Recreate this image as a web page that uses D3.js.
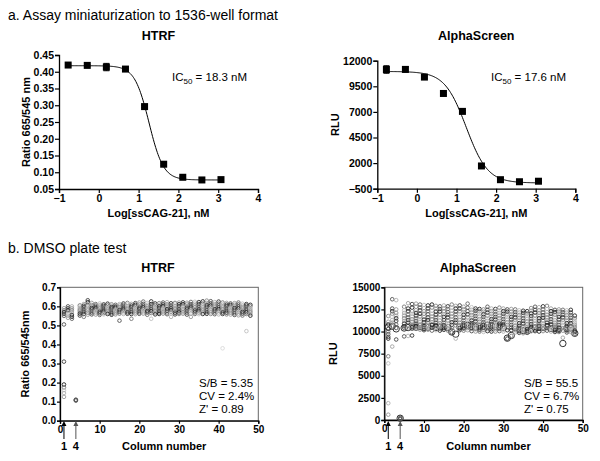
<!DOCTYPE html>
<html><head><meta charset="utf-8">
<script src="https://cdn.jsdelivr.net/npm/d3@7"></script>
<style>body{margin:0;background:#fff}svg{display:block}text{font-family:"Liberation Sans",Arial,sans-serif}</style>
</head><body><div id="chart"></div>
<script>
// ---------- data ----------
const logConc = [-0.77,-0.29,0.19,0.67,1.15,1.63,2.11,2.59,3.07];
const htrfMean = [0.420,0.419,0.414,0.408,0.296,0.124,0.085,0.077,0.078];
const htrfErr  = [0.003,0.003,0.011,0.003,0.003,0.003,0.002,0.002,0.002];
const alphaMean = [11140,11150,10400,8800,7050,1720,380,180,230];
const alphaErr  = [370,250,120,100,100,80,60,50,60];
// fitted 4-parameter logistic: [top, bottom, logIC50, hill]
const htrfFit  = [0.418,0.077,Math.log10(18.3),2.4];
const alphaFit = [10950,60,Math.log10(17.6),1.6];
const xTicksTop = [-1,0,1,2,3,4];
const htrfYTicksTop = [0.05,0.10,0.15,0.20,0.25,0.30,0.35,0.40,0.45];
const alphaYTicksTop = [-500,2000,4500,7000,9500,12000];
const columnTicks = [0,10,20,30,40,50];
const htrfYTicksPlate = [0,0.1,0.2,0.3,0.4,0.5,0.6,0.7];
const alphaYTicksPlate = [0,2500,5000,7500,10000,12500,15000];

// DMSO plate: values per column (1..48)
const htrfPlate = [
[0.58,0.59,0.57,0.56,0.55,0.505,0.31,0.19,0.175,0.16,0.145,0.125],
[0.60,0.59,0.58,0.575,0.56,0.55,0.54],
[0.60,0.59,0.58,0.57,0.555,0.545,0.535],
[0.11,0.105,0.108],
[0.605,0.598,0.59,0.583,0.577,0.57,0.562,0.552],
[0.612,0.603,0.595,0.588,0.58,0.571,0.56,0.545],
[0.632,0.622,0.605,0.596,0.587,0.578,0.566,0.556],
[0.618,0.607,0.6,0.592,0.584,0.575,0.567,0.558],
[0.612,0.604,0.597,0.59,0.582,0.574,0.566,0.557],
[0.615,0.606,0.598,0.589,0.581,0.572,0.564,0.555],
[0.61,0.602,0.595,0.588,0.58,0.573,0.565,0.558],
[0.614,0.605,0.597,0.59,0.583,0.575,0.567,0.56],
[0.611,0.603,0.596,0.589,0.581,0.572,0.564,0.556],
[0.608,0.6,0.594,0.587,0.58,0.573,0.566,0.558],
[0.612,0.604,0.596,0.588,0.58,0.571,0.562,0.525],
[0.615,0.607,0.599,0.591,0.584,0.576,0.568,0.56],
[0.618,0.609,0.6,0.592,0.585,0.577,0.569,0.561],
[0.613,0.604,0.596,0.588,0.579,0.57,0.56,0.535],
[0.617,0.608,0.6,0.592,0.584,0.576,0.568,0.559],
[0.62,0.61,0.601,0.593,0.585,0.577,0.569,0.561],
[0.625,0.613,0.603,0.594,0.586,0.578,0.57,0.562],
[0.618,0.608,0.6,0.592,0.584,0.576,0.568,0.556],
[0.626,0.612,0.602,0.593,0.584,0.575,0.565,0.535],
[0.615,0.606,0.598,0.59,0.582,0.574,0.566,0.558],
[0.617,0.608,0.6,0.592,0.584,0.576,0.568,0.56],
[0.62,0.611,0.602,0.594,0.586,0.578,0.57,0.562],
[0.622,0.612,0.603,0.595,0.586,0.577,0.568,0.559],
[0.616,0.607,0.599,0.59,0.581,0.572,0.563,0.545],
[0.618,0.609,0.6,0.592,0.584,0.576,0.567,0.558],
[0.62,0.611,0.602,0.594,0.585,0.577,0.568,0.56],
[0.621,0.612,0.603,0.595,0.586,0.578,0.569,0.561],
[0.619,0.61,0.601,0.593,0.584,0.576,0.567,0.557],
[0.623,0.612,0.602,0.593,0.584,0.574,0.562,0.545],
[0.624,0.614,0.604,0.595,0.586,0.578,0.569,0.56],
[0.622,0.612,0.603,0.594,0.585,0.577,0.568,0.559],
[0.626,0.615,0.605,0.596,0.587,0.578,0.569,0.56],
[0.63,0.618,0.606,0.597,0.588,0.579,0.57,0.561],
[0.627,0.616,0.605,0.596,0.587,0.578,0.569,0.56],
[0.622,0.612,0.603,0.594,0.585,0.577,0.568,0.559],
[0.625,0.614,0.604,0.595,0.586,0.577,0.568,0.558],
[0.62,0.611,0.602,0.594,0.585,0.577,0.568,0.56],
[0.618,0.609,0.601,0.593,0.584,0.576,0.567,0.558],
[0.615,0.607,0.599,0.591,0.583,0.575,0.566,0.557],
[0.617,0.608,0.6,0.591,0.582,0.573,0.564,0.555],
[0.62,0.61,0.6,0.59,0.58,0.571,0.562,0.553],
[0.614,0.605,0.597,0.589,0.58,0.571,0.562,0.552],
[0.612,0.604,0.596,0.587,0.578,0.569,0.56,0.47],
[0.608,0.6,0.592,0.585,0.577,0.569,0.56,0.551]
];
const htrfFaint = [[41,0.38]];

const alphaPlate = [
[11750,11100,10800,10300,10000,9700,9400,9200,7200,6400,1900,600],
[13650,12600,12300,12000,11650,11300,11000,10600,8300],
[13550,12500,12100,11800,11500,11200,10800,10400,9100],
[250,150,100],
[12800,12400,12100,11800,11500,11200,10900,10600,10400,9450],
[13200,12600,12300,11900,11600,11300,11000,10700,10400,9500],
[13100,12700,12300,12000,11700,11400,11100,10800,10500,9550],
[13150,12800,12400,12100,11800,11500,11200,10900,10600,10300],
[13050,12700,12400,12000,11700,11400,11100,10800,10500,10200],
[13000,12650,12300,12000,11650,11350,11050,10750,10450,10150],
[12950,12600,12300,11950,11600,11300,11000,10700,10400,10200],
[13050,12700,12350,12000,11700,11400,11050,10750,10450,10100],
[12900,12600,12250,11900,11600,11300,11000,10700,10400,10150],
[12850,12550,12250,11900,11600,11250,10950,10650,10350,10100],
[12950,12600,12300,11950,11650,11300,11000,10700,10450,10200],
[12850,12550,12200,11900,11600,11250,10950,10650,10350,10100],
[13050,12700,12350,12000,11700,11350,11050,10750,10400,9900],
[12900,12600,12250,11950,11600,11300,11000,10700,10300,9200],
[12950,12600,12300,11950,11650,11300,11000,10700,10400,10150],
[12800,12500,12200,11900,11550,11250,10950,10650,10350,10100],
[13150,12700,12300,11950,11600,11300,11000,10700,10400,10150],
[12750,12450,12150,11850,11550,11250,10950,10650,10350,10050],
[12600,12350,12050,11750,11450,11150,10850,10550,10250,10000],
[12550,12300,12000,11700,11400,11100,10800,10500,10200,10000],
[12500,12250,11950,11650,11350,11050,10750,10450,10200,9950],
[12800,12450,12150,11800,11500,11200,10900,10600,10300,10050],
[12600,12300,12000,11700,11400,11100,10800,10500,10250,10000],
[12550,12250,11950,11650,11350,11050,10750,10500,10250,10000],
[12700,12400,12100,11800,11500,11200,10900,10600,10300,10050],
[12600,12300,12000,11700,11400,11100,10800,10500,10200,10000],
[12500,12250,11950,11650,11350,11050,10750,10450,10150,9200],
[12550,12250,11950,11650,11350,11050,10750,10450,10150,9500],
[12500,12200,11900,11600,11300,11000,10700,10400,10150,9900],
[12400,12150,11850,11550,11250,10950,10650,10350,10100,9850],
[12350,12100,11800,11500,11200,10900,10600,10350,10100,9800],
[12300,12050,11750,11450,11150,10850,10550,10300,10050,9850],
[12650,12350,12050,11750,11450,11150,10850,10550,10250,10000],
[12800,12450,12150,11800,11500,11200,10900,10600,10300,10050],
[12750,12400,12100,11800,11500,11200,10900,10600,10300,10000],
[12850,12500,12150,11850,11550,11250,10950,10650,10350,10050],
[12900,12550,12200,11900,11600,11300,11000,10700,10400,10100],
[12600,12300,12000,11700,11400,11100,10800,10500,10250,10000],
[12450,12200,11900,11600,11300,11000,10750,10450,10200,9950],
[12500,12250,11950,11650,11350,11050,10750,10450,10200,9950],
[12450,12200,11900,11600,11300,11000,10700,10400,10100,9300],
[12400,12150,11850,11550,11250,10950,10650,10350,10100,9900],
[12450,12150,11850,11550,11250,10950,10650,10400,10150,9950],
[11800,11500,11250,11000,10750,10500,10300,10100,9950,9750]
];
const alphaBig = [10500,10600,10300,200,10400,10450,10500,10500,10550,10450,10500,10600,10450,10500,10550,10450,9950,9700,10500,10600,10700,10600,10500,10550,10600,10700,10650,10600,10550,10450,9250,9550,10450,10200,10100,10050,10250,10400,10500,10450,10550,10350,10300,10250,8650,10350,10400,9800];

// ---------- drawing ----------
const W=600,H=461;
const svg=d3.select("#chart").append("svg").attr("width",W).attr("height",H);
const FONT='"Liberation Sans",Arial,sans-serif';

svg.append("text").attr("x",8).attr("y",20).attr("font-size",14).text("a. Assay miniaturization to 1536-well format");
svg.append("text").attr("x",8).attr("y",253).attr("font-size",14).text("b. DMSO plate test");

function styleAxis(g){
  g.selectAll(".domain").attr("stroke","#000").attr("stroke-width",1.3);
  g.selectAll(".tick line").attr("stroke","#000").attr("stroke-width",1.2);
  g.selectAll(".tick text").attr("font-family",FONT).attr("font-weight","bold").attr("fill","#000");
}

function logistic(p,x){ return p[1]+(p[0]-p[1])/(1+Math.pow(10,(x-p[2])*p[3])); }

function doseChart(o){
  const x=d3.scaleLinear().domain([-1,4]).range(o.xr);
  const y=d3.scaleLinear().domain(o.yd).range(o.yr);
  const gx=svg.append("g").attr("transform",`translate(0,${o.yr[0]})`)
    .call(d3.axisBottom(x).tickValues(xTicksTop).tickSize(4).tickPadding(2).tickFormat(d3.format("d")));
  styleAxis(gx); gx.selectAll(".tick text").attr("font-size",10.5);
  const gy=svg.append("g").attr("transform",`translate(${o.xr[0]},0)`)
    .call(d3.axisLeft(y).tickValues(o.yticks).tickSize(4).tickPadding(1).tickFormat(o.fmt));
  styleAxis(gy); gy.selectAll(".tick text").attr("font-size",10.5);
  // curve
  const xs=d3.range(logConc[0],logConc[logConc.length-1]+0.001,0.02);
  svg.append("path").datum(xs).attr("fill","none").attr("stroke","#000").attr("stroke-width",1)
    .attr("d",d3.line().x(d=>x(d)).y(d=>y(logistic(o.fit,d))));
  // error bars
  const eb=svg.append("g").attr("stroke","#000").attr("stroke-width",1);
  logConc.forEach((c,i)=>{
    const e=o.err[i]; if(!e) return;
    const xc=x(c), y1=y(o.mean[i]+e), y2=y(o.mean[i]-e);
    eb.append("line").attr("x1",xc).attr("x2",xc).attr("y1",y1).attr("y2",y2);
    eb.append("line").attr("x1",xc-3).attr("x2",xc+3).attr("y1",y1).attr("y2",y1);
    eb.append("line").attr("x1",xc-3).attr("x2",xc+3).attr("y1",y2).attr("y2",y2);
  });
  svg.append("g").selectAll("rect").data(logConc).join("rect")
    .attr("x",d=>x(d)-3.5).attr("y",(d,i)=>y(o.mean[i])-3.5).attr("width",7).attr("height",7).attr("fill","#000");
  svg.append("text").attr("x",(o.xr[0]+o.xr[1])/2).attr("y",39.5).attr("text-anchor","middle")
    .attr("font-size",12.5).attr("font-weight","bold").text(o.title);
  svg.append("text").attr("x",(o.xr[0]+o.xr[1])/2).attr("y",217).attr("text-anchor","middle")
    .attr("font-size",11).attr("font-weight","bold").text("Log[ssCAG-21], nM");
  svg.append("text").attr("transform",`translate(${o.ylx},${(o.yr[0]+o.yr[1])/2}) rotate(-90)`)
    .attr("text-anchor","middle").attr("font-size",11).attr("font-weight","bold").text(o.ylabel);
  const t=svg.append("text").attr("x",o.icx).attr("y",81).attr("font-size",11.5);
  t.append("tspan").text("IC");
  t.append("tspan").attr("font-size",8).attr("dy",3).text("50");
  t.append("tspan").attr("dy",-3).text(" = "+o.ic);
}

doseChart({xr:[59,258],yd:[0.05,0.45],yr:[189,55],yticks:htrfYTicksTop,fmt:d3.format(".2f"),
  fit:htrfFit,mean:htrfMean,err:htrfErr,title:"HTRF",ylabel:"Ratio 665/545 nm",ylx:30,icx:172,ic:"18.3 nM"});
doseChart({xr:[377.3,575.3],yd:[-500,12000],yr:[188.7,60.7],yticks:alphaYTicksTop,fmt:d3.format("d"),
  fit:alphaFit,mean:alphaMean,err:alphaErr,title:"AlphaScreen",ylabel:"RLU",ylx:339,icx:491,ic:"17.6 nM"});

const greys=["#222","#8a8a8a","#555","#b0b0b0","#333","#777","#a0a0a0","#444","#999","#666","#c0c0c0","#2a2a2a"];

function plateChart(o){
  const x=d3.scaleLinear().domain([0,50]).range(o.xr);
  const y=d3.scaleLinear().domain(o.yd).range(o.yr);
  // frame
  svg.append("rect").attr("x",o.xr[0]).attr("y",o.yr[1]).attr("width",o.xr[1]-o.xr[0]).attr("height",o.yr[0]-o.yr[1])
    .attr("fill","none").attr("stroke","#666").attr("stroke-width",1);
  const gx=svg.append("g").attr("transform",`translate(0,${o.yr[0]})`)
    .call(d3.axisBottom(x).tickValues(columnTicks).tickSize(3).tickPadding(2).tickFormat(d3.format("d")));
  styleAxis(gx); gx.selectAll(".tick text").attr("font-size",10);
  const gy=svg.append("g").attr("transform",`translate(${o.xr[0]},0)`)
    .call(d3.axisLeft(y).tickValues(o.yticks).tickSize(3).tickPadding(1).tickFormat(o.fmt));
  styleAxis(gy); gy.selectAll(".tick text").attr("font-size",10);
  const pts=[];
  o.data.forEach((col,ci)=>col.forEach((v,k)=>pts.push({c:ci+1,v:v,k:k})));
  const g=svg.append("g").attr("fill","none");
  if(o.big){
    g.selectAll("circle.big").data(o.big).join("circle").attr("class","big")
      .attr("cx",(d,i)=>x(i+1)).attr("cy",d=>y(d)).attr("r",3.2).attr("stroke","#333").attr("stroke-width",1);
  }
  g.selectAll("circle.s").data(pts).join("circle").attr("class","s")
    .attr("cx",d=>x(d.c)).attr("cy",d=>y(d.v)).attr("r",1.8)
    .attr("stroke",d=>greys[(d.k*5+d.c)%greys.length]).attr("stroke-width",0.9);
  if(o.faint){
    g.selectAll("circle.f").data(o.faint).join("circle").attr("class","f")
      .attr("cx",d=>x(d[0])).attr("cy",d=>y(d[1])).attr("r",1.8).attr("stroke","#ddd");
  }
  svg.append("text").attr("x",o.titleX).attr("y",272).attr("text-anchor","middle")
    .attr("font-size",12.5).attr("font-weight","bold").text(o.title);
  svg.append("text").attr("x",(o.xr[0]+o.xr[1])/2+5).attr("y",450).attr("text-anchor","middle")
    .attr("font-size",11).attr("font-weight","bold").text("Column number");
  svg.append("text").attr("transform",`translate(${o.ylx},${(o.yr[0]+o.yr[1])/2}) rotate(-90)`)
    .attr("text-anchor","middle").attr("font-size",11).attr("font-weight","bold").text(o.ylabel);
  o.stats.forEach((s,i)=>svg.append("text").attr("x",o.statX).attr("y",387+i*13).attr("font-size",11.5).text(s));
  // arrows at columns 1 and 4
  [1,4].forEach((c,i)=>{
    const xc=x(c);
    svg.append("line").attr("x1",xc).attr("x2",xc).attr("y1",439).attr("y2",425).attr("stroke",i?"#555":"#000").attr("stroke-width",1);
    svg.append("path").attr("d",`M${xc-2.5},${426}L${xc},${421}L${xc+2.5},${426}Z`).attr("fill",i?"#555":"#000");
    svg.append("text").attr("x",xc).attr("y",450).attr("text-anchor","middle").attr("font-size",11).attr("font-weight","bold").text(c);
  });
}

plateChart({xr:[60,258.3],yd:[0,0.7],yr:[420.7,287.3],yticks:htrfYTicksPlate,fmt:d3.format(".1f"),
  data:htrfPlate,faint:htrfFaint,title:"HTRF",titleX:158,ylabel:"Ratio 665/545nm",ylx:29,
  stats:["S/B = 5.35","CV = 2.4%","Z' = 0.89"],statX:199});
plateChart({xr:[384.3,582.7],yd:[0,15000],yr:[420,287.3],yticks:alphaYTicksPlate,fmt:d3.format("d"),
  data:alphaPlate,big:alphaBig,title:"AlphaScreen",titleX:478,ylabel:"RLU",ylx:337,
  stats:["S/B = 55.5","CV = 6.7%","Z' = 0.75"],statX:524});
</script></body></html>
